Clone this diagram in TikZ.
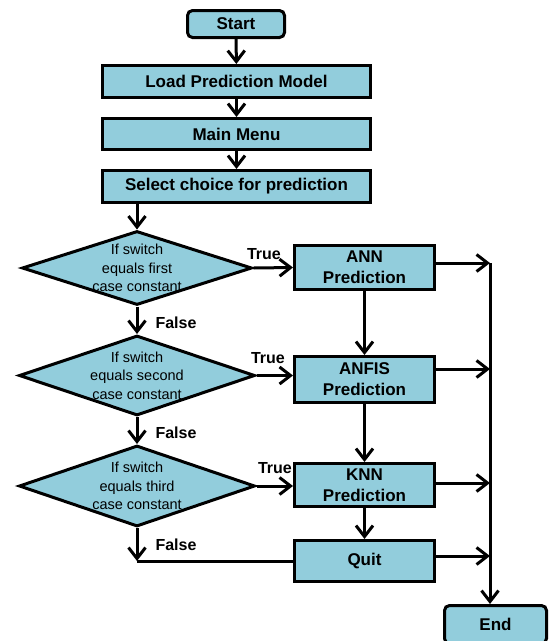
\documentclass[tikz,border=0pt]{standalone}
\usepackage{fontspec}
\setmainfont{Liberation Sans}
\usetikzlibrary{shapes.geometric,arrows.meta}

\definecolor{boxblue}{RGB}{146,205,220}

\begin{document}
\begin{tikzpicture}[x=1pt, y=-1pt, line width=3pt,
                    box/.style={draw, fill=boxblue, inner sep=0pt, align=center, font=\fontsize{17}{21}\selectfont\bfseries},
                    term/.style={box, rounded corners=5pt},
                    dia/.style={draw, fill=boxblue, diamond, inner sep=0pt},
                    dtext/.style={align=center, inner sep=0pt, font=\fontsize{14.5}{18.5}\selectfont},
                    lbl/.style={inner sep=0pt, font=\fontsize{16}{19}\selectfont\bfseries},
                    arr/.style={-{Straight Barb[length=11pt,width=17pt]}}]
                            \useasboundingbox (0,0) rectangle (549,641);
                            % main column
                            \node[term, minimum width=97pt, minimum height=27pt] (start) at (236,24) {Start};
                            \node[box, minimum width=268pt, minimum height=32pt] (load) at (236.5,81.5) {Load Prediction Model};
                            \node[box, minimum width=268pt, minimum height=31pt] (menu) at (236.5,134) {Main Menu};
                            \node[box, minimum width=268pt, minimum height=32pt] (select) at (236.5,186.5) {Select choice for prediction};
                            % switch cases
                            \node[dia, minimum width=230pt, minimum height=74pt, label={[dtext]center:If switch\\equals first\\case constant}] (d1) at (137,268) {};
                            \node[dia, minimum width=236pt, minimum height=80pt, label={[dtext]center:If switch\\equals second\\case constant}] (d2) at (137,375.5) {};
                            \node[dia, minimum width=236pt, minimum height=81pt, label={[dtext]center:If switch\\equals third\\case constant}] (d3) at (137,486) {};
                            % predictions
                            \node[box, minimum width=140pt, minimum height=44pt] (ann) at (364.5,267.5) {ANN\\Prediction};
                            \node[box, minimum width=140pt, minimum height=46pt] (anfis) at (364.5,379.5) {ANFIS\\Prediction};
                            \node[box, minimum width=140pt, minimum height=43pt] (knn) at (364.5,485) {KNN\\Prediction};
                            \node[box, minimum width=140pt, minimum height=41pt] (quit) at (364.5,561) {Quit};
                            \node[term, minimum width=102pt, minimum height=38pt] (end) at (495.5,624.5) {End};
                            \coordinate (r1) at (490,263);
                            \coordinate (r2) at (490,369);
                            \coordinate (r3) at (490,483);
                            \coordinate (r4) at (490,556);
                            \coordinate (f3) at (d3.south |- quit.west);
                            \draw[arr] (start) -- (load);
                            \draw[arr] (load) -- (menu);
                            \draw[arr] (menu) -- (select);
                            \draw[arr] (d1.north |- select.south) -- (d1.north);
                            \draw[arr] (d1.east) -- (ann.west) node[lbl, pos=0, anchor=base west, xshift=-8pt, yshift=9pt] {True};
                            \draw[arr] (d2.east) -- (anfis.west |- d2.east) node[lbl, pos=0, anchor=base west, xshift=-7pt, yshift=12pt] {True};
                            \draw[arr] (d3.east) -- (knn.west |- d3.east) node[lbl, pos=0, anchor=base west, yshift=13pt] {True};
                            \draw[arr] (d1.south) -- (d2.north) node[lbl, midway, right=17pt, yshift=-3pt] {False};
                            \draw[arr] (d2.south) -- (d3.north) node[lbl, midway, right=17pt, yshift=-2pt] {False};
                            \draw[arr] (d3.south) -- (f3) node[lbl, midway, right=17pt] {False};
                            \draw (quit.west) -- (f3);
                            \draw[arr] (ann) -- (anfis);
                            \draw[arr] (anfis) -- (knn);
                            \draw[arr] (knn) -- (quit);
                            \draw[arr] (ann.east |- r1) -- (r1);
                            \draw[arr] (anfis.east |- r2) -- (r2);
                            \draw[arr] (knn.east |- r3) -- (r3);
                            \draw[arr] (quit.east |- r4) -- (r4);
                            \draw[arr] (r1) -- (r1 |- end.north);
                        \end{tikzpicture}
\end{document}
